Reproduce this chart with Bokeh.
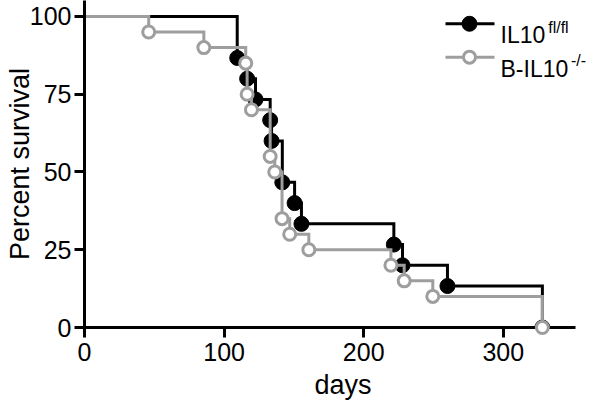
from bokeh.plotting import figure
from bokeh.models import Range1d, Label, FixedTicker
from bokeh.embed import file_html
from bokeh.resources import INLINE

# ---- data ----
days_ctrl = [0, 109.4, 116.5, 122.5, 133, 134, 141.7, 150.5, 155.4, 221.6, 227.8, 260, 328]
surv_ctrl = [100, 86.67, 80, 73.33, 66.67, 60, 46.67, 40, 33.33, 26.67, 20, 13.33, 0]
days_ko = [0, 46, 85.5, 115.5, 116.5, 119.6, 133, 136.3, 141.5, 147, 160.7, 219.5, 229, 249.5, 328]
surv_ko = [100, 95, 90, 85, 75, 70, 55, 50, 35, 30, 25, 20, 15, 10, 0]
x_ticks = [0, 100, 200, 300]
y_ticks = [0, 25, 50, 75, 100]
x_axis_max = 352
series_names = ["IL10", "B-IL10"]
series_sup = ["fl/fl", "-/-"]

BLACK = "#000000"
GRAY = "#9e9e9e"
FONT = "Liberation Sans"

W, H = 601, 407
X0, XS = 84.0, 1.396      # px of x=0, px per day
Y0, YS = 327.3, 3.113     # px of y=0, px per percent

p = figure(width=W, height=H,
           x_range=Range1d(0, (W - X0) / XS), y_range=Range1d(0, Y0 / YS),
           output_backend="svg", toolbar_location=None,
           min_border_left=84, min_border_right=0,
           min_border_top=0, min_border_bottom=80)
p.outline_line_color = None
p.xgrid.visible = False
p.ygrid.visible = False
p.background_fill_color = "white"

for ax in (p.xaxis[0], p.yaxis[0]):
    ax.axis_line_width = 3
    ax.axis_line_color = BLACK
    ax.major_tick_line_width = 3
    ax.major_tick_line_color = BLACK
    ax.major_tick_out = 10
    ax.major_tick_in = 0
    ax.minor_tick_line_color = None
    ax.major_label_text_font = FONT
    ax.major_label_text_font_size = "25px"
    ax.major_label_text_color = BLACK
    ax.axis_label_text_font = FONT
    ax.axis_label_text_font_size = "27px"
    ax.axis_label_text_font_style = "normal"
    ax.axis_label_text_color = BLACK

p.xaxis.ticker = FixedTicker(ticks=x_ticks)
p.yaxis.ticker = FixedTicker(ticks=y_ticks)
p.xaxis.bounds = (0, x_axis_max)
p.xaxis.axis_label = "days"
p.yaxis.axis_label = "Percent survival"
p.xaxis.major_label_standoff = 5
p.yaxis.major_label_standoff = 3
p.xaxis.axis_label_standoff = 6
p.yaxis.axis_label_standoff = -8

# ---- survival curves ----
p.step(days_ctrl, surv_ctrl, mode="after", line_color=BLACK, line_width=3, line_join="miter")
p.scatter(days_ctrl[1:], surv_ctrl[1:], size=15, fill_color=BLACK, line_color=BLACK, line_width=1)
p.step(days_ko, surv_ko, mode="after", line_color=GRAY, line_width=3, line_join="miter")
p.scatter(days_ko[1:], surv_ko[1:], size=12, fill_color="white", line_color=GRAY, line_width=3,
          level="overlay")

# ---- legend (pixel layout -> data coords) ----
def dx(px):
    return (px - X0) / XS
def dy(py):
    return (Y0 - py) / YS

rows = [(23.3, BLACK, BLACK, 15, 1, 35.0, 26.7, 547.7),
        (56.7, GRAY, "white", 12, 3, 68.3, 60.0, 570.5)]
for (ly, lc, fc, sz, lw, base, sbase, sx), name, sup in zip(rows, series_names, series_sup):
    p.line([dx(445), dx(494)], [dy(ly), dy(ly)], line_color=lc, line_width=3)
    p.scatter([dx(469)], [dy(ly)], size=sz, fill_color=fc, line_color=lc, line_width=lw)
    p.add_layout(Label(x=dx(500), y=dy(base), text=name, text_font=FONT,
                       text_font_size="23px", text_color=BLACK, text_baseline="alphabetic"))
    p.add_layout(Label(x=dx(sx), y=dy(sbase), text=sup, text_font=FONT,
                       text_font_size="16px", text_color=BLACK, text_baseline="alphabetic"))

open("out.html", "w").write(file_html(p, INLINE))
